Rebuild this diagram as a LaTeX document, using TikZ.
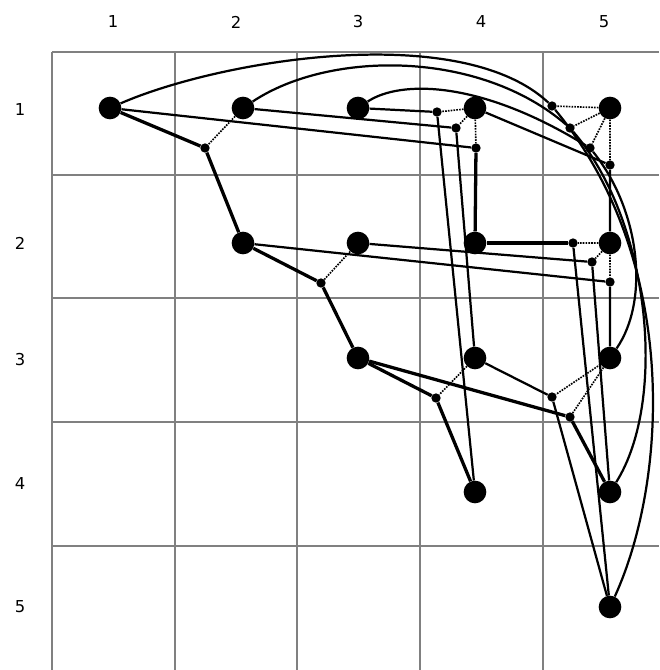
\documentclass[tikz,border=0pt]{standalone}
\usepackage{fontspec}
\setmainfont{DejaVu Sans}
\begin{document}
\begin{tikzpicture}[x=0.03cm, y=-0.03cm, term/.style = {circle, fill, inner sep=0pt, minimum size=0.68cm}, stein/.style = {circle, fill, inner sep=0pt, minimum size=0.28cm}, gridline/.style = {draw=gray, line width=1.7pt}, edge/.style = {line width=1.9pt}, tree/.style = {line width=2.8pt}, link/.style = {densely dotted, line width=1.4pt}, lab/.style = {font=\fontsize{14}{16}\selectfont}]
\useasboundingbox (0,0) rectangle (659,670);
\foreach \x in {52,175,297,420,543} \draw[gridline] (\x,52) -- (\x,670);
\foreach \y in {52,175,298,422,546} \draw[gridline] (52,\y) -- (659,\y);
\foreach \i/\x in {1/113,2/236,3/358,4/481,5/604} \node[lab] (c\i) at (\x,22) {\i};
\foreach \i/\y in {1/110,2/243,3/360,4/484,5/607} \node[lab] (r\i) at (20,\y) {\i};
\node[term](11) at (110,108) {}; \node[term](21) at (243,108) {}; \node[term](31) at (358,108) {}; \node[term](41) at (475,108) {}; \node[term](51) at (610,108) {};
\node[term](22) at (243,243) {}; \node[term](32) at (358,243) {}; \node[term](42) at (475,243) {}; \node[term](52) at (610,243) {};
\node[term](33) at (358,358) {}; \node[term](43) at (475,358) {}; \node[term](53) at (610,358) {};
\node[term](44) at (475,492) {}; \node[term](54) at (610,492) {}; \node[term](55) at (610,607) {};
\node[stein](s1) at (205,148) {}; \node[stein](s2) at (321,283) {}; \node[stein](s3) at (436,398) {};
\node[stein](p1) at (476,148) {}; \node[stein](p2) at (456,128) {}; \node[stein](p3) at (437,112) {};
\node[stein](q1) at (610,282) {}; \node[stein](q2) at (592,262) {}; \node[stein](q3) at (573,243) {};
\node[stein](r1) at (570,417) {}; \node[stein](r2) at (552,397) {};
\node[stein](t1) at (552,106) {}; \node[stein](t2) at (570,128) {}; \node[stein](t3) at (590,148) {}; \node[stein](t4) at (610,165) {};
\draw[tree] (11) -- (s1) -- (22) -- (s2) -- (33) -- (s3) -- (44);
\draw[link] (21) -- (s1) (32) -- (s2) (43) -- (s3);
\draw[edge] (11) -- (p1); \draw[tree] (p1) -- (42); \draw[edge] (21) -- (p2) -- (43); \draw[edge] (31) -- (p3) -- (44);
\draw[link] (41) -- (p1) (41) -- (p2) (41) -- (p3);
\draw[edge] (22) -- (q1) -- (53); \draw[edge] (32) -- (q2) -- (54); \draw[tree] (42) -- (q3); \draw[edge] (q3) -- (55);
\draw[link] (52) -- (q1) (52) -- (q2) (52) -- (q3);
\draw[tree] (33) -- (r1) -- (54); \draw[edge] (43) -- (r2) -- (55);
\draw[link] (53) -- (r1) (53) -- (r2);
\draw[edge] (11) .. controls (220,60) and (460,20) .. (t1) .. controls (680,260) and (668,480) .. (55);
\draw[edge] (21) .. controls (330,50) and (480,50) .. (t2) .. controls (650,220) and (668,400) .. (54);
\draw[edge] (31) .. controls (400,80) and (480,80) .. (t3) .. controls (640,210) and (650,300) .. (53);
\draw[edge] (41) -- (t4) -- (52);
\draw[link] (51) -- (t1) (51) -- (t2) (51) -- (t3) (51) -- (t4);
\end{tikzpicture}
\end{document}
